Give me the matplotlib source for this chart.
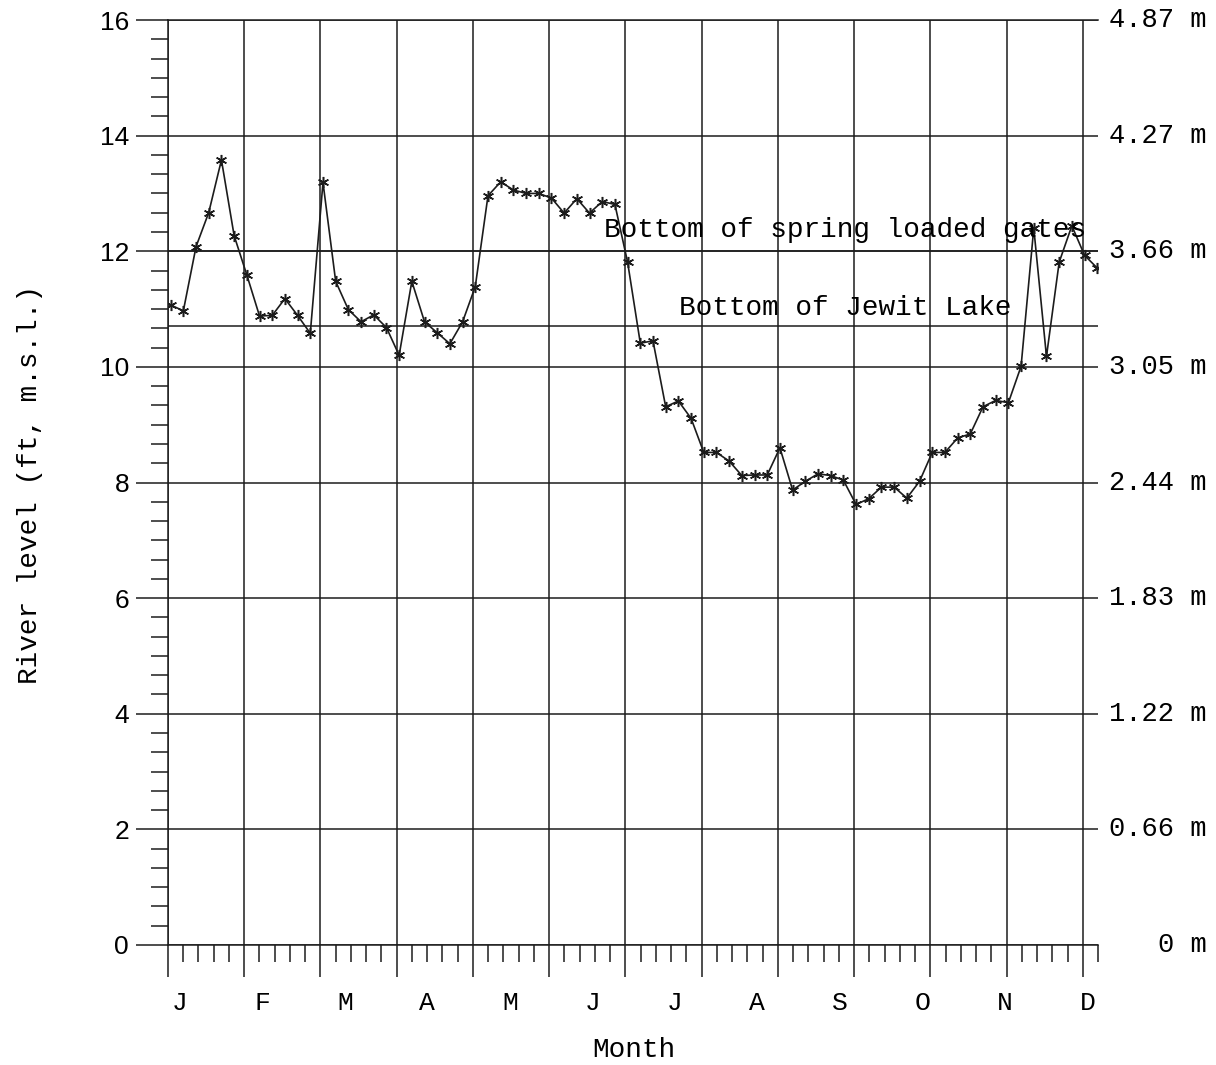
import numpy as np
import matplotlib.pyplot as plt
from matplotlib.ticker import FixedLocator, NullFormatter
import matplotlib.transforms as mtransforms

# river level readings through the year (ft above mean sea level), about every 5 days
level_ft = [11.07, 10.97, 12.08, 12.67, 13.58, 12.27, 11.59, 10.88, 10.89, 11.18,
            10.89, 10.58, 13.19, 11.48, 10.99, 10.78, 10.90, 10.68, 10.20, 11.48,
            10.78, 10.59, 10.40, 10.78, 11.39, 12.96, 13.20, 13.06, 13.00, 13.00,
            12.92, 12.66, 12.91, 12.66, 12.86, 12.81, 11.81, 10.41, 10.45, 9.31,
            9.41, 9.11, 8.52, 8.52, 8.37, 8.12, 8.13, 8.13, 8.60, 7.87,
            8.02, 8.15, 8.12, 8.04, 7.62, 7.72, 7.92, 7.92, 7.73, 8.02,
            8.52, 8.52, 8.77, 8.84, 9.31, 9.42, 9.38, 10.01, 12.40, 10.18,
            11.81, 12.44, 11.93, 11.71]

months = ['J', 'F', 'M', 'A', 'M', 'J', 'J', 'A', 'S', 'O', 'N', 'D']
ft_ticks = [0, 2, 4, 6, 8, 10, 12, 14, 16]
metre_labels = ['0 m', '0.66 m', '1.22 m', '1.83 m', '2.44 m', '3.05 m', '3.66 m', '4.27 m', '4.87 m']

gates_ft = 12.0   # bottom of spring loaded gates
jewit_ft = 10.71  # bottom of Jewit Lake

ink = '#1c1c1c'
mono = 'Liberation Mono'

fig = plt.figure(figsize=(12.16, 10.65), dpi=100)
ax = fig.add_axes([168/1216, 1 - 945/1065, 930/1216, 925/1065])

# sample positions in month units (0 = start of January)
x = np.linspace(0.035, 12.19, len(level_ft))
ax.plot(x, level_ft, color=ink, lw=1.2, marker=(6, 2, 0), ms=8, mew=1.1, zorder=3)

ax.axhline(gates_ft, color=ink, lw=1.1, zorder=2)
ax.axhline(jewit_ft, color=ink, lw=1.1, zorder=2)
ax.text(5.72, 12.25, 'Bottom of spring loaded gates', family=mono, fontsize=20,
        va='baseline', ha='left', zorder=4)
ax.text(6.70, 10.90, 'Bottom of Jewit Lake', family=mono, fontsize=20,
        va='baseline', ha='left', zorder=4)

ax.set_xlim(0, 12.2)
ax.set_ylim(0, 16)

ax.xaxis.set_major_locator(FixedLocator(np.arange(0, 13)))
ax.xaxis.set_minor_locator(FixedLocator(np.arange(0, 62) * 0.2))
ax.xaxis.set_major_formatter(NullFormatter())
ax.yaxis.set_major_locator(FixedLocator(ft_ticks))
ax.yaxis.set_minor_locator(FixedLocator(np.arange(0, 49) / 3))

ax.tick_params(axis='both', which='major', direction='out', length=23, width=1.1,
               color=ink, pad=5)
ax.tick_params(axis='both', which='minor', direction='out', length=12, width=1.1,
               color=ink)
for lab in ax.get_yticklabels():
    lab.set_family('Liberation Sans')
    lab.set_fontsize(19)

ax.grid(True, which='major', color=ink, lw=1.1)
ax.set_axisbelow(True)
ax.spines['right'].set_visible(False)
for side in ['left', 'bottom', 'top']:
    ax.spines[side].set_color(ink)
    ax.spines[side].set_linewidth(1.1)

# month letters sit below the ticks, spread evenly across the year
for mx, m in zip(np.linspace(0.157, 12.06, 12), months):
    ax.text(mx, -1.0, m, family=mono, fontsize=19, ha='center', va='center', clip_on=False)

# metre equivalents on the right
trans = mtransforms.blended_transform_factory(ax.transAxes, ax.transData)
for v, lab in zip(ft_ticks, metre_labels):
    ax.text(1.117, v, lab, transform=trans, family=mono, fontsize=19.5,
            ha='right', va='center', clip_on=False)

fig.text(30/1216, 1 - 485/1065, 'River level (ft, m.s.l.)', family=mono, fontsize=20,
         rotation=90, ha='center', va='center')
fig.text(634/1216, 1 - 1050/1065, 'Month', family=mono, fontsize=20,
         ha='center', va='center')

fig.savefig('out.png', dpi=100, facecolor='white')
